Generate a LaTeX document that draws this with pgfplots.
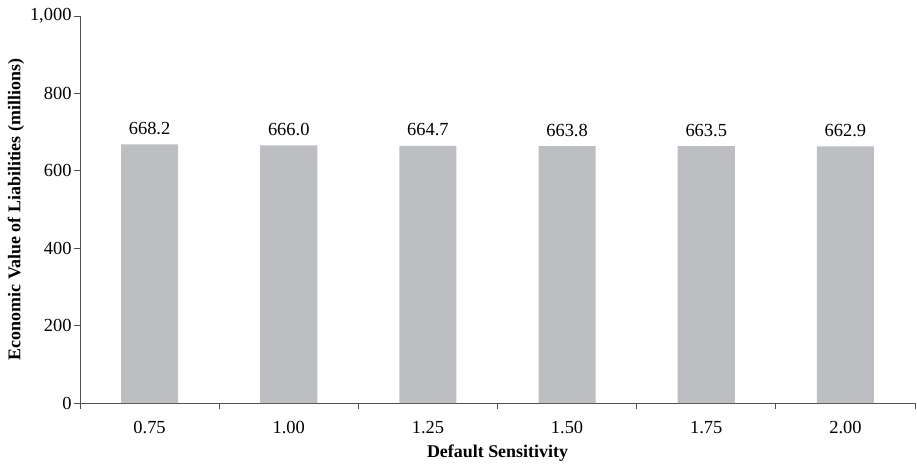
\documentclass[border=0pt]{standalone}
\usepackage{fontspec}
\setmainfont{Liberation Serif}
\usepackage{pgfplots}
\pgfplotsset{compat=1.18}
\definecolor{bargray}{RGB}{189,190,194}
\definecolor{axisgray}{RGB}{80,80,80}
\begin{document}
\begin{tikzpicture}
\begin{axis}[
  name=ax,
  scale only axis,
  width=835bp, height=387bp,
  xmin=-0.5, xmax=5.5,
  ymin=0, ymax=1000,
  axis x line*=bottom, axis y line*=left,
  axis line style={axisgray, line width=0.9pt},
  xtick={0,1,2,3,4,5},
  xticklabels={0.75,1.00,1.25,1.50,1.75,2.00},
  major x tick style={draw=none},
  minor xtick={-0.5,0.5,1.5,2.5,3.5,4.5,5.5},
  minor x tick style={axisgray, line width=0.9pt},
  minor tick length=6bp,
  ytick={0,200,400,600,800,1000},
  yticklabels={0,200,400,600,800,{1,000}},
  y tick style={axisgray, line width=0.9pt},
  major tick length=6bp,
  tick align=outside,
  /pgf/number format/assume math mode=true,
  tick label style={font=\fontsize{18.5}{21}\selectfont},
  x tick label style={yshift=-9bp},
  y tick label style={xshift=1bp},
  xlabel={\textbf{Default Sensitivity}},
  ylabel={\textbf{Economic Value of Liabilities (millions)}},
  label style={font=\fontsize{18}{21}\selectfont},
  xlabel style={at={(axis description cs:0.5,0)}, anchor=base, yshift=-54bp},
  ylabel style={at={(axis description cs:0,0.5)}, anchor=center, yshift=64bp},
  nodes near coords,
  nodes near coords style={font=\fontsize{18.5}{21}\selectfont, /pgf/number format/fixed, /pgf/number format/fixed zerofill, /pgf/number format/precision=1, yshift=6bp},
  clip=false,
]
\addplot[ybar, bar width=0.41, fill=bargray, draw=none] coordinates {
  (0,668.2) (1,666.0) (2,664.7) (3,663.8) (4,663.5) (5,662.9)
};
\end{axis}
\path ([xshift=-80bp,yshift=-58bp]ax.south west) rectangle ([xshift=2bp,yshift=16bp]ax.north east);
\end{tikzpicture}
\end{document}
